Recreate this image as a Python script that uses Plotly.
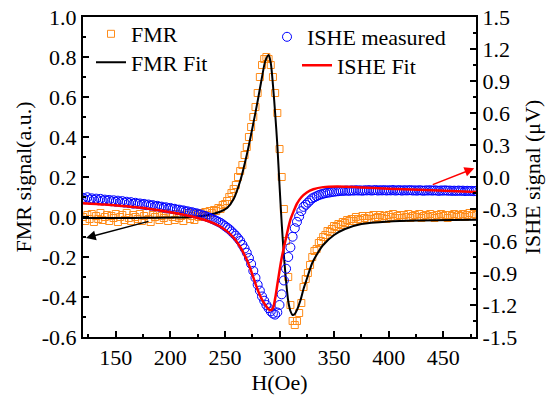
import plotly.graph_objects as go

# ---------------- data ----------------
H_DATA = list(range(120, 481, 2))  # field grid of the measured points (Oe)

FMR_MEASURED = [
    0.00, -0.02, 0.01, -0.01, 0.015, -0.025, 0.005, -0.01, 0.02, -0.015,      # 120-138
    0.0, 0.01, -0.02, 0.005, -0.005, 0.015, -0.025, 0.0, 0.01, -0.015,        # 140-158
    0.02, -0.005, -0.02, 0.01, 0.0, -0.01, 0.015, -0.02, 0.005, 0.02,         # 160-178
    -0.01, -0.025, 0.01, 0.0, 0.015, -0.015, 0.005, -0.005, 0.02, -0.02,      # 180-198
    0.01, 0.0, -0.015, 0.015, -0.005, 0.005, -0.02, 0.01, 0.02, -0.01,        # 200-218
    0.005, -0.015, 0.015, 0.0, 0.02, 0.005, 0.025, 0.01, 0.03, 0.02,          # 220-238
    0.035, 0.03, 0.045, 0.04, 0.06, 0.065, 0.08, 0.10, 0.12, 0.14,            # 240-258
    0.16, 0.20, 0.23, 0.26, 0.31, 0.35, 0.40, 0.45, 0.50, 0.55,               # 260-278
    0.62, 0.70, 0.76, 0.79, 0.80, 0.79, 0.76, 0.70, 0.62, 0.52,               # 280-298
    0.34, 0.20, 0.04, -0.12, -0.30, -0.44, -0.52, -0.54, -0.52, -0.48,        # 300-318
    -0.43, -0.35, -0.31, -0.28, -0.24, -0.20, -0.17, -0.16, -0.13, -0.12,     # 320-338
    -0.10, -0.09, -0.07, -0.075, -0.06, -0.045, -0.05, -0.035, -0.04, -0.025, # 340-358
    -0.03, -0.015, -0.02, -0.01, -0.02, 0.0, -0.01, -0.015, 0.005, -0.005,    # 360-378
    -0.01, 0.005, -0.01, 0.01, -0.005, 0.0, 0.01, -0.005, 0.005, -0.01,       # 380-398
    0.01, 0.0, 0.015, -0.005, 0.005, 0.01, -0.005, 0.01, 0.0, 0.015,          # 400-418
    -0.005, 0.005, 0.01, 0.0, 0.015, -0.005, 0.005, 0.01, 0.0, 0.015,         # 420-438
    0.005, -0.005, 0.01, 0.0, 0.015, 0.005, 0.01, -0.005, 0.01, 0.005,        # 440-458
    0.015, 0.0, 0.01, 0.005, 0.015, 0.0, 0.01, 0.02, 0.005, 0.015,            # 460-478
    0.01,                                                                      # 480
]

ISHE_MEASURED = [
    -0.195, -0.21, -0.19, -0.212, -0.2, -0.215, -0.203, -0.218, -0.205, -0.22,     # 120-138
    -0.212, -0.222, -0.215, -0.228, -0.218, -0.232, -0.222, -0.236, -0.226, -0.24, # 140-158
    -0.232, -0.245, -0.236, -0.25, -0.242, -0.252, -0.248, -0.258, -0.252, -0.264, # 160-178
    -0.258, -0.268, -0.264, -0.275, -0.27, -0.28, -0.278, -0.288, -0.284, -0.295,  # 180-198
    -0.29, -0.3, -0.298, -0.308, -0.306, -0.315, -0.313, -0.322, -0.322, -0.332,   # 200-218
    -0.33, -0.34, -0.34, -0.35, -0.352, -0.362, -0.366, -0.376, -0.382, -0.392,    # 220-238
    -0.40, -0.41, -0.42, -0.43, -0.445, -0.46, -0.475, -0.49, -0.51, -0.53,        # 240-258
    -0.55, -0.575, -0.60, -0.635, -0.67, -0.71, -0.76, -0.815, -0.88, -0.945,      # 260-278
    -1.01, -1.065, -1.12, -1.16, -1.20, -1.23, -1.26, -1.28, -1.29, -1.27,         # 280-298
    -1.20, -1.10, -0.97, -0.86, -0.75, -0.66, -0.56, -0.48, -0.42, -0.37,          # 300-318
    -0.32, -0.28, -0.26, -0.24, -0.22, -0.20, -0.19, -0.18, -0.17, -0.163,         # 320-338
    -0.157, -0.152, -0.147, -0.145, -0.14, -0.138, -0.135, -0.133, -0.13, -0.13,   # 340-358
    -0.128, -0.127, -0.13, -0.125, -0.128, -0.124, -0.127, -0.125, -0.129, -0.124, # 360-378
    -0.126, -0.123, -0.127, -0.125, -0.122, -0.127, -0.124, -0.126, -0.123, -0.127,# 380-398
    -0.124, -0.126, -0.122, -0.127, -0.125, -0.123, -0.128, -0.124, -0.126, -0.125,# 400-418
    -0.123, -0.127, -0.125, -0.128, -0.124, -0.126, -0.129, -0.125, -0.127, -0.124,# 420-438
    -0.128, -0.125, -0.127, -0.13, -0.126, -0.128, -0.125, -0.129, -0.127, -0.13,  # 440-458
    -0.128, -0.131, -0.127, -0.13, -0.128, -0.132, -0.129, -0.131, -0.13, -0.133,  # 460-478
    -0.13,                                                                           # 480
]

H_FMR_FIT = [120, 150, 180, 200, 220, 235, 245, 252, 258, 264, 270, 275, 280, 284,
             287, 290, 292, 294, 296, 298, 300, 302, 304, 306, 308, 310, 312, 314,
             316, 319, 322, 325, 330, 335, 340, 350, 360, 375, 400, 430, 460, 480]
FMR_FIT = [-0.005, -0.005, -0.004, -0.003, 0.0, 0.01, 0.025, 0.045, 0.09, 0.18,
           0.31, 0.44, 0.58, 0.70, 0.78, 0.81, 0.77, 0.66, 0.52, 0.36, 0.16, -0.03,
           -0.19, -0.32, -0.42, -0.47, -0.49, -0.485, -0.465, -0.42, -0.36, -0.31,
           -0.23, -0.18, -0.14, -0.09, -0.06, -0.035, -0.022, -0.017, -0.015, -0.014]

H_ISHE_FIT = [120, 140, 160, 180, 200, 220, 235, 245, 252, 258, 263, 267, 271, 275,
              279, 283, 287, 290, 292, 294, 296, 298, 300, 302, 304, 306, 308, 310,
              313, 316, 320, 325, 331, 340, 353, 370, 400, 440, 480]
ISHE_FIT = [-0.245, -0.258, -0.275, -0.298, -0.33, -0.37, -0.415, -0.46, -0.51,
            -0.57, -0.64, -0.71, -0.80, -0.91, -1.03, -1.13, -1.20, -1.24, -1.25,
            -1.23, -1.14, -1.01, -0.88, -0.76, -0.66, -0.57, -0.48, -0.40, -0.32,
            -0.25, -0.19, -0.145, -0.115, -0.095, -0.09, -0.095, -0.11, -0.125, -0.14]

X_TICKS = [150, 200, 250, 300, 350, 400, 450]
X_TICK_TEXT = ["150", "200", "250", "300", "350", "400", "450"]
Y_TICKS = [-0.6, -0.4, -0.2, 0.0, 0.2, 0.4, 0.6, 0.8, 1.0]
Y_TICK_TEXT = ["-0.6", "-0.4", "-0.2", "0.0", "0.2", "0.4", "0.6", "0.8", "1.0"]
Y2_TICKS = [-1.5, -1.2, -0.9, -0.6, -0.3, 0.0, 0.3, 0.6, 0.9, 1.2, 1.5]
Y2_TICK_TEXT = ["-1.5", "-1.2", "-0.9", "-0.6", "-0.3", "0.0", "0.3", "0.6", "0.9", "1.2", "1.5"]

# ---------------- style ----------------
FONT = "Liberation Serif"
ORANGE = "#FF8C1A"
BLUE = "#0000FF"
RED = "#FF0000"
W, HGT = 560, 396
L, R, T, B = 83, 84, 17, 59
PW, PH = W - L - R, HGT - T - B


def px_x(px):  # screen pixel -> paper x
    return (px - L) / PW


def px_y(py):  # screen pixel -> paper y
    return (HGT - B - py) / PH


fig = go.Figure()
fig.add_trace(go.Scatter(
    x=H_DATA, y=FMR_MEASURED, mode="markers", name="FMR", legend="legend",
    marker=dict(symbol="square-open", size=7, color=ORANGE, line=dict(width=1, color=ORANGE)),
))
fig.add_trace(go.Scatter(
    x=H_FMR_FIT, y=FMR_FIT, mode="lines", name="FMR Fit", legend="legend2",
    line=dict(color="black", width=2, shape="spline", smoothing=0.8),
))
fig.add_trace(go.Scatter(
    x=H_DATA, y=ISHE_MEASURED, mode="markers", name="ISHE measured", yaxis="y2", legend="legend3",
    marker=dict(symbol="circle-open", size=9, color=BLUE, line=dict(width=1, color=BLUE)),
))
fig.add_trace(go.Scatter(
    x=H_ISHE_FIT, y=ISHE_FIT, mode="lines", name="ISHE Fit", yaxis="y2", legend="legend4",
    line=dict(color=RED, width=2.5, shape="spline", smoothing=0.8),
))

axis_common = dict(
    showline=True, linecolor="black", linewidth=2,
    ticks="inside", ticklen=6, tickwidth=2, tickcolor="black",
    tickfont=dict(family=FONT, size=22, color="black"),
    showgrid=False, zeroline=False,
)

leg_common = dict(font=dict(family=FONT, size=22, color="black"),
                  bgcolor="rgba(0,0,0,0)", borderwidth=0,
                  xanchor="left", yanchor="middle", tracegroupgap=0)

fig.update_layout(
    width=W, height=HGT,
    margin=dict(l=L, r=R, t=T, b=B, autoexpand=False),
    paper_bgcolor="white", plot_bgcolor="white",
    font=dict(family=FONT, size=22, color="black"),
    xaxis=dict(
        range=[120, 480], tickmode="array", tickvals=X_TICKS, ticktext=X_TICK_TEXT,
        mirror=True,
        minor=dict(tickmode="linear", tick0=125, dtick=25, ticks="inside", ticklen=3,
                   tickwidth=2, tickcolor="black"),
        title=dict(text="H(Oe)", font=dict(family=FONT, size=22), standoff=0),
        **axis_common,
    ),
    yaxis=dict(
        range=[-0.6, 1.0], tickmode="array", tickvals=Y_TICKS, ticktext=Y_TICK_TEXT,
        minor=dict(tickmode="linear", tick0=-0.5, dtick=0.1, ticks="inside", ticklen=3,
                   tickwidth=2, tickcolor="black"),
        title=dict(text="FMR signal(a.u.)", font=dict(family=FONT, size=22), standoff=4),
        **axis_common,
    ),
    yaxis2=dict(
        range=[-1.5, 1.5], overlaying="y", side="right",
        tickmode="array", tickvals=Y2_TICKS, ticktext=Y2_TICK_TEXT,
        minor=dict(tickmode="linear", tick0=-1.35, dtick=0.15, ticks="inside", ticklen=3,
                   tickwidth=2, tickcolor="black"),
        title=dict(text="ISHE signal (μV)", font=dict(family=FONT, size=22), standoff=8),
        **axis_common,
    ),
    legend=dict(x=px_x(91), y=px_y(34), **leg_common),
    legend2=dict(x=px_x(91), y=px_y(62.5), **leg_common),
    legend3=dict(x=px_x(267), y=px_y(37), **leg_common),
    legend4=dict(x=px_x(297), y=px_y(65.5), **leg_common),
    showlegend=True,
    annotations=[
        dict(x=122.75, y=-0.105, xref="x", yref="y", ax=64, ay=-17, axref="pixel", ayref="pixel",
             text="", showarrow=True, arrowhead=2, arrowsize=1.3, arrowwidth=1.5, arrowcolor="black"),
        dict(x=478.4, y=0.082, xref="x", yref="y2", ax=-43, ay=17, axref="pixel", ayref="pixel",
             text="", showarrow=True, arrowhead=2, arrowsize=1.3, arrowwidth=1.5, arrowcolor=RED),
    ],
)

# remove the default 8px page margin so the figure sits at the window's corner
fig.write_html(
    "out.html",
    config={"displayModeBar": False},
    post_script="document.body.style.margin='0';document.body.style.overflow='hidden';",
)
